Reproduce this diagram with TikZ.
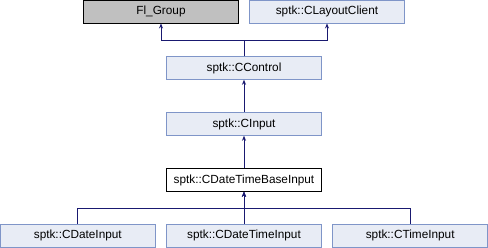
\documentclass[tikz,border=0pt]{standalone}
\usepackage{fontspec}
\setmainfont{Liberation Sans}
\usetikzlibrary{arrows.meta}
\definecolor{edgeblue}{HTML}{191970}
\definecolor{boxfill}{HTML}{E8ECF5}
\definecolor{boxline}{HTML}{7F95C8}
\begin{document}
\begin{tikzpicture}[x=1pt,y=-1pt,
  cls/.style={draw=boxline,fill=boxfill,line width=0.9pt,minimum height=22.6pt,inner sep=0pt,font=\fontsize{11.8}{13}\selectfont},
  w155/.style={minimum width=155.4pt},
  inh/.style={draw=edgeblue,line width=0.9pt,-{Stealth[length=5pt,width=4pt]}}]
\useasboundingbox (0,0) rectangle (488,248);
\node[cls,w155,fill={rgb,255:red,192;green,192;blue,192},draw=black] (fl) at (161,11.7) {Fl\_Group};
\node[cls,w155] (lc) at (327,11.7) {sptk::CLayoutClient};
\node[cls,w155] (ctl) at (244,68) {sptk::CControl};
\node[cls,w155] (inp) at (244,124) {sptk::CInput};
\node[cls,w155,fill=white,draw=black] (base) at (244,180) {sptk::CDateTimeBaseInput};
\node[cls,w155] (di) at (77.8,235.7) {sptk::CDateInput};
\node[cls,w155] (dti) at (244,235.7) {sptk::CDateTimeInput};
\node[cls,w155] (ti) at (410.2,235.7) {sptk::CTimeInput};
\coordinate (j1) at (244,40.7);
\coordinate (j2) at (244,208.3);
\draw[inh] (ctl.north) -- (j1) -| (fl.south);
\draw[inh] (ctl.north) -- (j1) -| (lc.south);
\draw[inh] (inp.north) -- (ctl.south);
\draw[inh] (base.north) -- (inp.south);
\draw[inh] (dti.north) -- (base.south);
\draw[inh] (di.north) |- (j2) -- (base.south);
\draw[inh] (ti.north) |- (j2) -- (base.south);
\end{tikzpicture}
\end{document}
